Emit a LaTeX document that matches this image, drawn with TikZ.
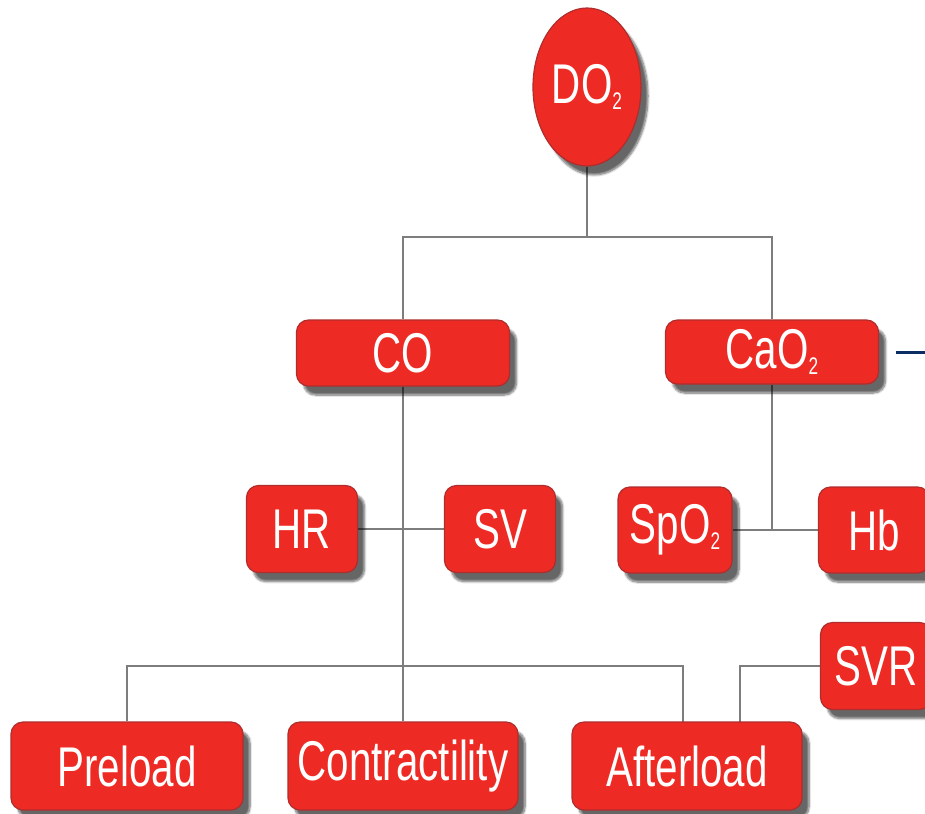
\documentclass[tikz,border=0pt]{standalone}
\usepackage{fontspec}
\setmainfont[FakeStretch=0.72]{Liberation Sans}
\usetikzlibrary{shapes.geometric,shadows.blur,backgrounds}
\definecolor{boxred}{RGB}{238,42,36}
\definecolor{boxedge}{RGB}{175,45,45}
\definecolor{linegray}{RGB}{125,125,125}
\definecolor{navy}{RGB}{10,45,100}
\tikzset{
  redbox/.style={rectangle, rounded corners=12pt, fill=boxred, draw=boxedge, line width=1.2pt,
    text=white, font=\fontsize{56}{60}\selectfont, inner sep=0pt,
    blur shadow={shadow xshift=7pt, shadow yshift=-9pt, shadow blur steps=8, shadow opacity=60}},
  redoval/.style={redbox, ellipse, rounded corners=0pt},
  conn/.style={draw=linegray, line width=2pt},
  navyline/.style={draw=navy, line width=3pt},
}
\newcommand{\subtwo}{\raisebox{-6pt}{\fontsize{24}{24}\selectfont 2}}
\begin{document}
\begin{tikzpicture}[x=1pt,y=-1pt]
\clip (0,0) rectangle (925,813);
\useasboundingbox (0,0) rectangle (925,813);
% nodes
\node[redoval, minimum width=108pt, minimum height=158pt] (DO2) at (587,87) {DO\subtwo};
\node[redbox, minimum width=213pt, minimum height=66pt] (CO) at (403,353) {CO};
\node[redbox, minimum width=213pt, minimum height=64pt] (CaO2) at (772,352) {CaO\subtwo};
\node[redbox, minimum width=111pt, minimum height=87pt] (HR) at (302,529) {HR};
\node[redbox, minimum width=111pt, minimum height=87pt] (SV) at (500,529) {SV};
\node[redbox, minimum width=114pt, minimum height=86pt] (SpO2) at (675,530) {SpO\subtwo};
\node[redbox, minimum width=111pt, minimum height=86pt] (Hb) at (874,530) {Hb};
\node[redbox, minimum width=111pt, minimum height=87pt] (SVR) at (876,666) {SVR};
\node[redbox, minimum width=232pt, minimum height=88pt] (Preload) at (127,766) {Preload};
\node[redbox, minimum width=230pt, minimum height=88pt] (Contr) at (403,766) {Contractility};
\node[redbox, minimum width=230pt, minimum height=88pt] (After) at (687,766) {Afterload};
% junction coordinates
\coordinate (j1) at (587,237);
\coordinate (j3) at (403,666);
\coordinate (j4) at (CaO2.south |- SpO2.east);
\coordinate (afterL) at (683,722);
\coordinate (afterR) at (740,722);
\coordinate (navystart) at ([xshift=17pt]CaO2.east);
\coordinate (navyend) at (navystart -| 930,0);
\begin{scope}[on background layer]
\draw[conn] (DO2.south) -- (j1);
\draw[conn] (CO.north) |- (j1) -| (CaO2.north);
\draw[conn] (CO.south) -- (j3);
\draw[conn] (HR.east) -- (SV.west);
\draw[conn] (CaO2.south) -- (j4);
\draw[conn] (SpO2.east) -- (Hb.west);
\draw[conn] (Preload.north) |- (j3) -| (afterL);
\draw[conn] (Contr.north) -- (j3);
\draw[conn] (SVR.west) -| (afterR);
\end{scope}
\draw[navyline] (navystart) -- (navyend);
\end{tikzpicture}
\end{document}
